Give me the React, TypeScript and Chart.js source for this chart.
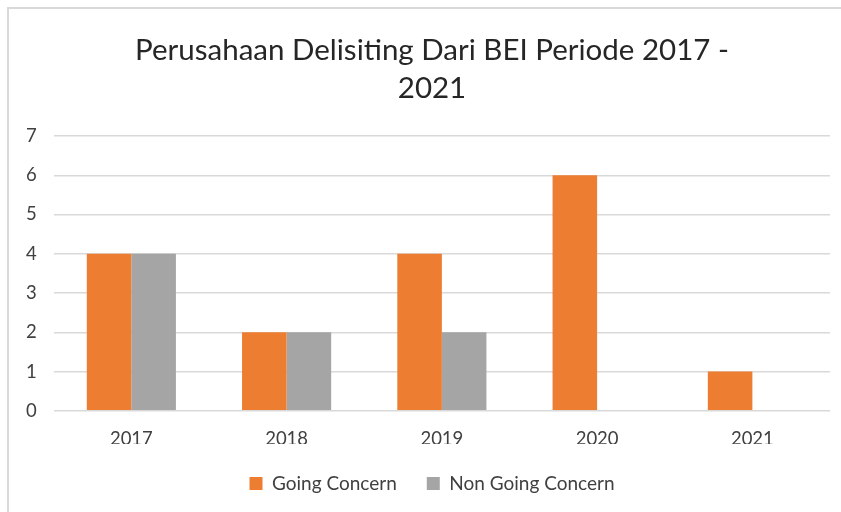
import React, { useEffect, useRef } from "react";
import { Chart, registerables } from "chart.js";

Chart.register(...registerables);

const categories = ["2017", "2018", "2019", "2020", "2021"];
const goingConcern = [4, 2, 4, 6, 1];
const nonGoingConcern = [4, 2, 2, 0, 0];
const titleLines = ["Perusahaan Delisiting Dari BEI Periode 2017 -", "2021"];
const yTicks = [0, 1, 2, 3, 4, 5, 6, 7];

const FONT = "Lato, 'Open Sans', sans-serif";

export default function App() {
  const ref = useRef<HTMLCanvasElement | null>(null);

  useEffect(() => {
    document.documentElement.style.overflow = "hidden";
    document.body.style.overflow = "hidden";
    const canvas = ref.current;
    if (!canvas) return;
    const chart = new Chart(canvas, {
      type: "bar",
      data: {
        labels: categories,
        datasets: [
          {
            label: "Going Concern",
            data: goingConcern,
            backgroundColor: "#ED7D31",
            borderWidth: 0,
          },
          {
            label: "Non Going Concern",
            data: nonGoingConcern,
            backgroundColor: "#A5A5A5",
            borderWidth: 0,
          },
        ],
      },
      options: {
        responsive: false,
        animation: false,
        devicePixelRatio: 1,
        layout: { padding: { left: 0, right: 0, top: 0, bottom: 12 } },
        datasets: {
          bar: { categoryPercentage: 0.574, barPercentage: 1 },
        },
        plugins: {
          title: {
            display: true,
            text: titleLines,
            color: "#262626",
            font: { family: FONT, size: 29.5, weight: "normal", lineHeight: "38px" },
            padding: { top: 22, bottom: 29 },
          },
          legend: {
            display: true,
            position: "bottom",
            labels: {
              color: "#404040",
              font: { family: FONT, size: 19 },
              boxWidth: 13,
              boxHeight: 13,
              padding: 30,
            },
          },
          tooltip: { enabled: false },
        },
        scales: {
          x: {
            grid: { display: false, drawTicks: false },
            border: { display: false },
            ticks: {
              color: "#404040",
              font: { family: FONT, size: 18.5 },
              padding: 17,
            },
            afterFit: (axis: any) => {
              axis.height -= 23;
            },
          },
          y: {
            min: 0,
            max: 7,
            afterBuildTicks: (axis: any) => {
              axis.ticks = yTicks.map((v) => ({ value: v }));
            },
            grid: { color: "#d9d9d9", lineWidth: 1.5, drawTicks: false },
            border: { display: false },
            ticks: {
              color: "#404040",
              font: { family: FONT, size: 18.5 },
              padding: 17,
            },
          },
          yRight: {
            position: "right",
            display: true,
            grid: { display: false, drawTicks: false },
            border: { display: false },
            ticks: { display: false },
            afterFit: (axis: any) => {
              axis.width = 25;
            },
          },
        },
      },
    });
    return () => chart.destroy();
  }, []);

  return (
    <div
      style={{
        position: "fixed",
        left: 7,
        top: 7,
        width: 860,
        height: 515,
        borderLeft: "2px solid #d9d9d9",
        borderTop: "2px solid #d9d9d9",
        boxSizing: "border-box",
        background: "#fff",
      }}
    >
      <canvas
        ref={ref}
        width={846}
        height={506}
        style={{ display: "block", width: 846, height: 506 }}
      />
    </div>
  );
}
